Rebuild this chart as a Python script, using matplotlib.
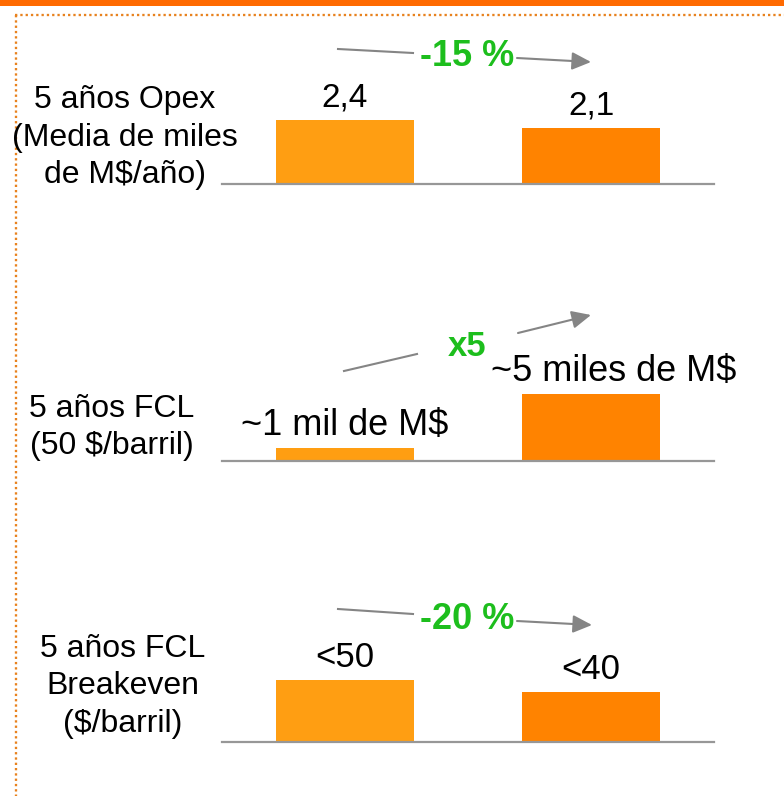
import matplotlib
matplotlib.use("Agg")
import matplotlib.pyplot as plt
from matplotlib.lines import Line2D
from matplotlib.patches import FancyArrowPatch, Rectangle

plt.rcParams['font.family'] = ['Liberation Sans', 'DejaVu Sans']

# ---------------- data ----------------
panel_titles = [
    ["5 años Opex", "(Media de miles", "de M$/año)"],
    ["5 años FCL", "(50 $/barril)"],
    ["5 años FCL", "Breakeven", "($/barril)"],
]
categories = ["Antes", "Después"]
opex_values = [2.4, 2.1]
fcl_values = [1, 5]
breakeven_values = [50, 40]
opex_labels = ["2,4", "2,1"]
fcl_labels = ["~1 mil de M$", "~5 miles de M$"]
breakeven_labels = ["<50", "<40"]
change_labels = ["-15 %", "x5", "-20 %"]

values = [opex_values, fcl_values, breakeven_values]
labels = [opex_labels, fcl_labels, breakeven_labels]

# ---------------- layout / style ----------------
W, H = 784, 796
fig = plt.figure(figsize=(W / 100, H / 100), dpi=100)

def fx(x):
    return x / W

def fy(y):
    return 1 - y / H

bar_colors = ['#FF9E12', '#FF8300']
baselines = [184, 461, 742]
ymax = [4.49, 8.97, 96.1]          # axis top (value units) per panel
axes_h = 120                        # px
label_sizes = [24, 26, 25]
label_dx = [[0, 0], [0, 16.5], [0, 0]]
title_cx = [124.5, 111.5, 122.5]
title_baselines = [[108, 146, 183], [417, 454], [657, 694, 732]]

for i in range(3):
    b = baselines[i]
    ax = fig.add_axes([fx(222), fy(b), fx(714) - fx(222), axes_h / H])
    xs = list(range(len(categories)))
    bars = ax.bar(xs, values[i], width=0.557, color=bar_colors, linewidth=0)
    ax.set_xlim(-0.5, 1.5)
    ax.set_ylim(0, ymax[i])
    ax.axhline(0, color='#979797', lw=1.6, clip_on=False, zorder=3)
    ax.axis('off')
    for j, rect in enumerate(bars):
        ax.annotate(labels[i][j],
                    xy=(rect.get_x() + rect.get_width() / 2, rect.get_height()),
                    xytext=(label_dx[i][j], 9.4), textcoords='offset points',
                    ha='center', va='baseline', fontsize=label_sizes[i],
                    color='black', annotation_clip=False)
    for line, yb in zip(panel_titles[i], title_baselines[i]):
        fig.text(fx(title_cx[i]), fy(yb), line, ha='center', va='baseline',
                 fontsize=23, color='black')

# ---------------- change arrows ----------------
arrow_color = '#858585'
arrows = [
    # left segment start, left seg end, right seg start, tip, text center x, text baseline, size
    ((338, 49), (413, 53), (517, 58), (591, 62), 467.5, 66, 26),
    ((344, 371), (417, 354), (518, 333), (591, 315), 467, 356, 25),
    ((338, 609), (413, 614), (517, 621), (592, 625), 467.5, 629, 26),
]
for k, (p0, p1, p2, p3, tx, ty, fs) in enumerate(arrows):
    fig.add_artist(Line2D([fx(p0[0]), fx(p1[0])], [fy(p0[1]), fy(p1[1])],
                          transform=fig.transFigure, color=arrow_color, lw=1.5))
    fig.add_artist(FancyArrowPatch((fx(p2[0]), fy(p2[1])), (fx(p3[0]), fy(p3[1])),
                                   transform=fig.transFigure,
                                   arrowstyle='-|>,head_length=0.58,head_width=0.27',
                                   mutation_scale=20, color=arrow_color, lw=1.5,
                                   shrinkA=0, shrinkB=0))
    fig.text(fx(tx), fy(ty), change_labels[k], ha='center', va='baseline',
             fontsize=fs, fontweight='bold', color='#1DBE1D')

# ---------------- frame decorations ----------------
fig.add_artist(Rectangle((0, fy(6)), 1, 6 / H, transform=fig.transFigure,
                         color='#FF6A00', lw=0))
dot_style = dict(transform=fig.transFigure, color='#E8821E', lw=1.66,
                 linestyle=(0, (1, 1.3)), solid_capstyle='butt', dash_capstyle='butt')
fig.add_artist(Line2D([fx(15), 1], [fy(15), fy(15)], **dot_style))
fig.add_artist(Line2D([fx(16), fx(16)], [fy(15), 0], **dot_style))

fig.savefig('out.png', dpi=100)
